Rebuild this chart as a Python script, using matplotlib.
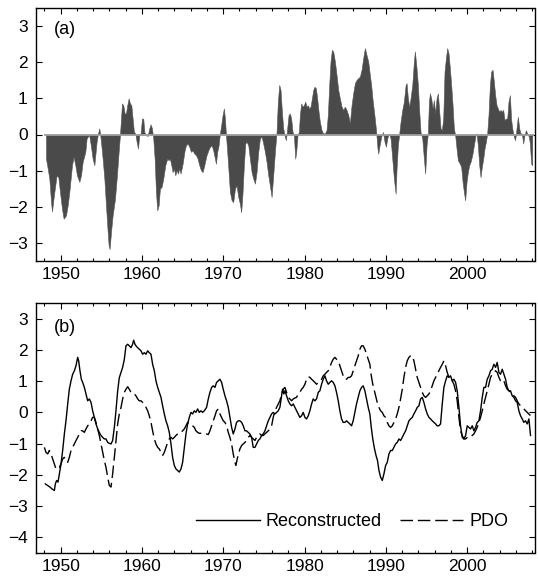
import matplotlib
matplotlib.use("Agg")
import matplotlib.pyplot as plt
from matplotlib.ticker import MultipleLocator

plt.rcParams['font.family'] = ['Liberation Sans', 'DejaVu Sans']

# ---------------- Panel (a): monthly PDO index ----------------
years_a = [1948.19, 1948.40, 1948.60, 1948.81, 1948.93, 1949.09, 1949.22, 1949.50, 1949.71, 1949.91,
           1950.16, 1950.36, 1950.65, 1950.86, 1951.06, 1951.39, 1951.59, 1951.80, 1952.00, 1952.29,
           1952.50, 1952.70, 1953.03, 1953.19, 1953.40, 1953.52, 1953.73, 1953.93, 1954.14, 1954.26,
           1954.42, 1954.59, 1954.75, 1954.87, 1955.00, 1955.16, 1955.37, 1955.57, 1955.78, 1955.90,
           1956.02, 1956.19, 1956.39, 1956.68, 1956.92, 1957.13, 1957.29, 1957.42, 1957.54, 1957.70,
           1957.87, 1958.03, 1958.19, 1958.36, 1958.52, 1958.69, 1958.85, 1959.01, 1959.18, 1959.34,
           1959.51, 1959.67, 1959.83, 1960.00, 1960.16, 1960.29, 1960.49, 1960.70, 1960.90, 1961.06,
           1961.23, 1961.39, 1961.56, 1961.72, 1961.88, 1962.05, 1962.21, 1962.42, 1962.62, 1962.87,
           1963.11, 1963.28, 1963.44, 1963.61, 1963.77, 1963.93, 1964.10, 1964.26, 1964.43, 1964.59,
           1964.75, 1965.00, 1965.25, 1965.41, 1965.62, 1965.82, 1966.03, 1966.23, 1966.44, 1966.64,
           1966.85, 1967.05, 1967.26, 1967.46, 1967.67,
           1967.95, 1968.16, 1968.36, 1968.57, 1968.77, 1968.98, 1969.10, 1969.26, 1969.43, 1969.59,
           1969.75, 1969.92, 1970.08, 1970.21, 1970.33, 1970.49, 1970.66, 1970.82, 1971.03, 1971.23,
           1971.44, 1971.64, 1971.85, 1972.05, 1972.21, 1972.38, 1972.54, 1972.71, 1972.87, 1973.08,
           1973.28, 1973.49, 1973.69, 1973.90, 1974.10, 1974.31, 1974.51, 1974.72, 1974.92, 1975.13,
           1975.33, 1975.54, 1975.74, 1975.95, 1976.15, 1976.36, 1976.56, 1976.72, 1976.89, 1977.05,
           1977.22, 1977.38, 1977.54, 1977.71, 1977.87, 1978.04, 1978.20, 1978.36, 1978.53, 1978.69,
           1978.86, 1978.98, 1979.14, 1979.31, 1979.43, 1979.59, 1979.76, 1979.92, 1980.09, 1980.25,
           1980.41, 1980.58, 1980.74, 1980.91, 1981.07, 1981.23, 1981.40, 1981.56, 1981.73, 1981.89,
           1982.10, 1982.30, 1982.51, 1982.71, 1982.87, 1983.04, 1983.20, 1983.37, 1983.53, 1983.74,
           1983.94, 1984.15, 1984.35, 1984.56, 1984.76, 1984.97, 1985.17, 1985.38, 1985.58, 1985.79,
           1985.99, 1986.20, 1986.40, 1986.61, 1986.81, 1987.02, 1987.22, 1987.43, 1987.63, 1987.84,
           1988.04, 1988.20, 1988.40, 1988.60, 1988.80, 1988.98,
           1989.07, 1989.24, 1989.44, 1989.65, 1989.85, 1990.02, 1990.18, 1990.39, 1990.59, 1990.80,
           1991.00, 1991.21, 1991.33, 1991.49, 1991.66, 1991.82, 1992.03, 1992.23, 1992.44, 1992.56,
           1992.72, 1992.89, 1993.05, 1993.26, 1993.46, 1993.58, 1993.75, 1993.95, 1994.12, 1994.28,
           1994.49, 1994.69, 1994.85, 1995.02, 1995.18, 1995.31, 1995.43, 1995.59, 1995.76, 1995.92,
           1996.08, 1996.25, 1996.41, 1996.58, 1996.74, 1996.90, 1997.07, 1997.23, 1997.40, 1997.56,
           1997.72, 1997.89, 1998.05, 1998.22, 1998.38, 1998.54, 1998.71, 1998.87, 1999.12, 1999.28,
           1999.45, 1999.61, 1999.77, 1999.94, 2000.10, 2000.27, 2000.43, 2000.64, 2000.84, 2001.05,
           2001.17, 2001.33, 2001.50, 2001.66, 2001.82, 2001.99, 2002.15, 2002.32, 2002.48, 2002.64,
           2002.81, 2002.97, 2003.14, 2003.30, 2003.46, 2003.63, 2003.79, 2003.96, 2004.12, 2004.28,
           2004.45, 2004.61, 2004.78, 2004.94, 2005.10, 2005.27, 2005.43, 2005.60, 2005.76, 2005.92,
           2006.09, 2006.25, 2006.42, 2006.58, 2006.74, 2006.91, 2007.07, 2007.24, 2007.40, 2007.61,
           2007.73, 2007.89, 2008.02]
pdo_a = [-0.67, -0.94, -1.22, -1.87, -2.13, -1.82, -1.59, -1.13, -1.18, -1.59,
         -2.06, -2.33, -2.24, -1.96, -1.59, -0.85, -0.62, -0.85, -1.13, -1.31,
         -1.13, -0.76, -0.48, -0.11, -0.04, -0.04, -0.34, -0.67, -0.85, -0.57,
         -0.20, 0.03, 0.17, -0.02, -0.30, -0.67, -1.22, -1.96, -2.70, -3.07,
         -3.17, -2.70, -2.24, -1.78, -1.13, -0.48, -0.02, 0.44, 0.86, 0.81,
         0.58, 0.58, 0.81, 1.00, 0.86, 0.81, 0.44, 0.07, 0.03, -0.20,
         -0.39, -0.02, 0.03, 0.44, 0.44, 0.07, -0.02, -0.04, 0.17, 0.28,
         0.17, -0.11, -0.67, -1.59, -2.10, -1.96, -1.50, -1.45, -1.22, -0.85,
         -0.67, -0.71, -0.67, -0.85, -1.04, -0.94, -1.13, -0.99, -1.08, -0.94,
         -1.08, -0.81, -0.44, -0.30, -0.25, -0.34, -0.48, -0.44, -0.53, -0.57,
         -0.67, -0.85, -0.99, -1.04, -0.85,
         -0.57, -0.44, -0.34, -0.30, -0.44, -0.67, -0.81, -0.48, -0.30, 0.03,
         0.26, 0.54, 0.72, 0.44, 0.00, -0.48, -1.04, -1.59, -1.82, -1.87,
         -1.50, -1.41, -1.73, -1.92, -2.15, -1.59, -0.85, -0.25, -0.20, -0.30,
         -0.67, -1.04, -1.22, -1.36, -1.04, -0.48, -0.11, -0.06, -0.25, -0.48,
         -0.76, -1.13, -1.41, -1.73, -1.13, -0.48, 0.07, 0.91, 1.37, 1.23,
         0.63, 0.17, -0.02, -0.16, 0.17, 0.54, 0.58, 0.44, 0.07, -0.02,
         -0.67, -0.48, -0.02, 0.07, 0.54, 0.86, 0.77, 0.81, 0.91, 0.77,
         0.81, 0.72, 0.77, 1.00, 1.23, 1.32, 1.28, 1.00, 0.63, 0.35,
         0.12, 0.03, 0.03, 0.12, 0.54, 1.37, 2.02, 2.34, 2.30, 2.02,
         1.65, 1.23, 1.00, 0.77, 0.68, 0.77, 0.68, 0.54, 0.31, 0.81,
         1.14, 1.42, 1.51, 1.56, 1.60, 1.79, 2.11, 2.39, 2.20, 2.02,
         1.65, 1.37, 0.91, 0.54, 0.12, -0.39,
         -0.53, -0.30, -0.06, 0.07, -0.20, -0.34, -0.11, 0.03, -0.11, -0.67,
         -1.22, -1.64, -0.94, -0.30, 0.03, 0.35, 0.68, 0.91, 1.37, 1.42,
         1.00, 0.77, 1.00, 1.37, 2.02, 2.30, 1.93, 1.37, 0.63, 0.07,
         -0.11, -0.67, -1.08, -0.30, 0.03, 0.91, 1.14, 1.00, 0.72, 0.95,
         0.58, 1.00, 1.14, 0.63, 0.17, 0.12, 0.44, 1.74, 2.11, 2.39,
         2.25, 1.83, 1.37, 0.81, 0.17, -0.02, -0.39, -0.71, -0.81, -0.90,
         -1.31, -1.59, -1.82, -1.31, -1.04, -0.85, -0.76, -0.57, -0.30, -0.02,
         0.03, -0.30, -0.85, -1.18, -0.90, -0.67, -0.39, -0.20, 0.03, 0.54,
         1.37, 1.74, 1.79, 1.46, 1.09, 0.81, 0.72, 0.63, 0.68, 0.63,
         0.68, 0.40, 0.44, 0.44, 0.91, 1.09, 0.40, 0.12, -0.06, -0.16,
         0.17, 0.49, 0.17, 0.03, 0.03, -0.25, -0.02, 0.12, 0.03, -0.06,
         -0.25, -0.81, -0.85]

# ---------------- Panel (b): Reconstructed and PDO ----------------
years_rec = [1948.11, 1948.40, 1948.68, 1948.93, 1949.22, 1949.34, 1949.50, 1949.67, 1949.83, 1950.04,
             1950.24, 1950.45, 1950.65, 1950.86, 1951.06, 1951.27, 1951.47, 1951.68, 1951.88, 1952.09,
             1952.21, 1952.37, 1952.54, 1952.70, 1952.91, 1953.11, 1953.32, 1953.52, 1953.73, 1953.93,
             1954.14, 1954.34, 1954.55, 1954.75, 1954.96, 1955.16, 1955.37, 1955.57, 1955.78, 1955.98,
             1956.19, 1956.39, 1956.60, 1956.80, 1957.01, 1957.21, 1957.42, 1957.62, 1957.83, 1958.03,
             1958.24, 1958.44, 1958.65, 1958.85, 1958.97, 1959.14, 1959.26, 1959.47, 1959.67, 1959.88,
             1960.08, 1960.29, 1960.49, 1960.70, 1960.90, 1961.11, 1961.31, 1961.52, 1961.72, 1961.93,
             1962.13, 1962.34, 1962.54, 1962.75, 1962.95, 1963.16, 1963.36, 1963.57, 1963.77, 1963.98,
             1964.18, 1964.39, 1964.59, 1964.80, 1965.00, 1965.21, 1965.41, 1965.62, 1965.82, 1966.03,
             1966.23, 1966.44, 1966.64, 1966.85, 1967.05, 1967.26, 1967.46, 1967.67,
             1967.95, 1968.16, 1968.36, 1968.57, 1968.77, 1968.98, 1969.18, 1969.39, 1969.59, 1969.80,
             1970.00, 1970.21, 1970.41, 1970.62, 1970.82, 1971.03, 1971.23, 1971.44, 1971.64, 1971.85,
             1972.05, 1972.26, 1972.46, 1972.67, 1972.87, 1973.08, 1973.28, 1973.49, 1973.69, 1973.90,
             1974.10, 1974.31, 1974.51, 1974.72, 1974.92, 1975.13, 1975.33, 1975.54, 1975.74, 1975.95,
             1976.15, 1976.36, 1976.56, 1976.77, 1976.97, 1977.18, 1977.30, 1977.46, 1977.59, 1977.79,
             1978.00, 1978.20, 1978.41, 1978.61, 1978.82, 1979.02, 1979.23, 1979.43, 1979.64, 1979.84,
             1980.05, 1980.25, 1980.46, 1980.66, 1980.87, 1981.07, 1981.28, 1981.48, 1981.69, 1981.89,
             1982.10, 1982.30, 1982.51, 1982.71, 1982.92, 1983.12, 1983.33, 1983.53, 1983.74, 1983.94,
             1984.15, 1984.35, 1984.56, 1984.76, 1984.97, 1985.17, 1985.38, 1985.58, 1985.79, 1985.99,
             1986.20, 1986.40, 1986.61, 1986.81, 1987.02, 1987.22, 1987.43, 1987.63, 1987.84, 1988.04,
             1988.20, 1988.40, 1988.60, 1988.80, 1988.98, 1989.16, 1989.36, 1989.57, 1989.77, 1989.98,
             1990.18, 1990.39, 1990.59, 1990.80, 1991.00, 1991.21, 1991.41, 1991.62, 1991.82, 1992.03,
             1992.23, 1992.44, 1992.64, 1992.85, 1993.05, 1993.26, 1993.46, 1993.67, 1993.87, 1994.08,
             1994.28, 1994.49, 1994.69, 1994.90, 1995.10, 1995.31, 1995.51, 1995.72, 1995.92, 1996.13,
             1996.33, 1996.53, 1996.74, 1996.95, 1997.15, 1997.36, 1997.56, 1997.77, 1997.97, 1998.18,
             1998.38, 1998.59, 1998.79, 1999.00, 1999.20, 1999.41, 1999.61, 1999.82, 2000.02, 2000.23,
             2000.43, 2000.64, 2000.84, 2001.05, 2001.25, 2001.46, 2001.66, 2001.87, 2002.07, 2002.28,
             2002.48, 2002.69, 2002.89, 2003.10, 2003.30, 2003.51, 2003.71, 2003.92, 2004.12, 2004.33,
             2004.53, 2004.74, 2004.94, 2005.15, 2005.35, 2005.56, 2005.76, 2005.97, 2006.17, 2006.38,
             2006.58, 2006.79, 2006.99, 2007.20, 2007.40, 2007.61, 2007.81]
rec = [-2.29, -2.34, -2.39, -2.45, -2.50, -2.29, -2.18, -2.23, -1.97, -1.65,
       -1.22, -0.69, -0.27, 0.27, 0.74, 1.01, 1.22, 1.33, 1.49, 1.76,
       1.65, 1.33, 1.06, 0.96, 0.80, 0.59, 0.37, 0.43, 0.32, 0.05,
       -0.16, -0.37, -0.53, -0.64, -0.74, -0.80, -0.85, -0.85, -0.96, -0.99,
       -1.01, -0.90, -0.48, 0.05, 0.69, 1.11, 1.28, 1.44, 1.70, 2.13,
       2.18, 2.13, 2.07, 2.18, 2.31, 2.18, 2.13, 2.07, 2.02, 1.97,
       1.86, 1.91, 1.86, 1.97, 1.91, 1.86, 1.54, 1.33, 1.01, 0.80,
       0.64, 0.48, 0.21, -0.05, -0.27, -0.43, -0.64, -1.01, -1.44, -1.70,
       -1.81, -1.86, -1.91, -1.81, -1.60, -1.12, -0.69, -0.37, -0.16, 0.00,
       -0.05, 0.05, 0.00, 0.11, 0.00, 0.05, 0.00, 0.05,
       0.16, 0.43, 0.64, 0.80, 0.85, 0.80, 0.96, 1.01, 1.06, 0.96,
       0.74, 0.53, 0.37, 0.16, -0.16, -0.48, -0.69, -0.53, -0.32, -0.27,
       -0.27, -0.32, -0.43, -0.59, -0.59, -0.64, -0.69, -0.80, -1.12, -1.12,
       -1.01, -0.90, -0.85, -0.74, -0.69, -0.59, -0.43, -0.27, -0.16, -0.05,
       0.00, -0.05, 0.00, 0.05, 0.16, 0.53, 0.74, 0.59, 0.69, 0.53,
       0.37, 0.27, 0.21, 0.27, 0.16, 0.05, -0.05, -0.16, -0.11, 0.00,
       -0.16, -0.21, -0.11, 0.05, 0.27, 0.43, 0.37, 0.43, 0.64, 0.69,
       0.90, 1.06, 1.17, 1.01, 0.90, 0.96, 1.01, 0.96, 0.85, 0.64,
       0.37, 0.05, -0.21, -0.32, -0.32, -0.27, -0.32, -0.37, -0.43, -0.27,
       0.00, 0.27, 0.48, 0.69, 0.80, 0.85, 0.69, 0.43, 0.16, -0.05,
       -0.45, -0.85, -1.15, -1.38, -1.54, -1.86, -2.07, -2.18, -1.97, -1.70,
       -1.60, -1.33, -1.22, -1.22, -1.12, -1.01, -0.96, -0.85, -0.90, -0.80,
       -0.69, -0.59, -0.43, -0.27, -0.21, -0.16, -0.05, 0.05, 0.16, 0.21,
       0.43, 0.48, 0.32, 0.11, -0.05, -0.16, -0.21, -0.27, -0.32, -0.37,
       -0.43, -0.43, -0.37, 0.27, 0.80, 1.01, 1.17, 1.12, 1.17, 1.01,
       1.06, 0.96, 0.69, 0.16, -0.43, -0.80, -0.85, -0.74, -0.43, -0.48,
       -0.53, -0.43, -0.59, -0.48, -0.32, -0.27, 0.05, 0.48, 0.80, 0.80,
       1.06, 1.17, 1.33, 1.38, 1.54, 1.44, 1.60, 1.28, 1.22, 1.38,
       1.22, 1.06, 0.80, 0.69, 0.69, 0.53, 0.48, 0.37, 0.32, 0.05,
       -0.11, -0.21, -0.32, -0.27, -0.37, -0.21, -0.74]

years_pdo = [1947.99, 1948.19, 1948.40, 1948.60, 1948.81, 1949.01, 1949.22, 1949.42, 1949.63, 1949.83,
             1950.04, 1950.24, 1950.45, 1950.65, 1950.86, 1951.06, 1951.27, 1951.47, 1951.68, 1951.88,
             1952.09, 1952.29, 1952.50, 1952.70, 1952.91, 1953.11, 1953.32, 1953.52, 1953.73, 1953.93,
             1954.14, 1954.34, 1954.55, 1954.75, 1954.96, 1955.16, 1955.37, 1955.57, 1955.78, 1955.98,
             1956.19, 1956.39, 1956.60, 1956.80, 1957.01, 1957.21, 1957.42, 1957.62, 1957.83, 1958.03,
             1958.24, 1958.44, 1958.65, 1958.85, 1959.06, 1959.26, 1959.47, 1959.67, 1959.88, 1960.08,
             1960.29, 1960.49, 1960.70, 1960.90, 1961.11, 1961.31, 1961.52, 1961.72, 1961.93, 1962.13,
             1962.34, 1962.54, 1962.75, 1962.95, 1963.16, 1963.36, 1963.57, 1963.77, 1963.98, 1964.18,
             1964.39, 1964.59, 1964.80, 1965.00, 1965.21, 1965.41, 1965.62, 1965.82, 1966.03, 1966.23,
             1966.44, 1966.64, 1966.85, 1967.05, 1967.26, 1967.46,
             1967.95, 1968.16, 1968.36, 1968.57, 1968.77, 1968.98, 1969.18, 1969.39, 1969.59, 1969.80,
             1970.00, 1970.21, 1970.41, 1970.62, 1970.82, 1971.03, 1971.23, 1971.44, 1971.56, 1971.72,
             1971.89, 1972.05, 1972.26, 1972.46, 1972.67, 1972.87, 1973.08, 1973.28, 1973.49, 1973.69,
             1973.90, 1974.10, 1974.31, 1974.51, 1974.72, 1974.92, 1975.13, 1975.33, 1975.54, 1975.74,
             1975.95, 1976.15, 1976.36, 1976.56, 1976.77, 1976.97, 1977.18, 1977.38, 1977.59, 1977.79,
             1978.00, 1978.20, 1978.41, 1978.61, 1978.82, 1979.02, 1979.23, 1979.43, 1979.64, 1979.84,
             1980.05, 1980.25, 1980.46, 1980.66, 1980.87, 1981.07, 1981.28, 1981.48, 1981.69, 1981.89,
             1982.10, 1982.30, 1982.51, 1982.71, 1982.92, 1983.12, 1983.33, 1983.53, 1983.74, 1983.94,
             1984.15, 1984.35, 1984.56, 1984.76, 1984.97, 1985.17, 1985.38, 1985.58, 1985.79, 1985.99,
             1986.20, 1986.40, 1986.61, 1986.81, 1987.02, 1987.22, 1987.43, 1987.63, 1987.84, 1988.04,
             1988.20, 1988.40, 1988.60, 1988.80, 1988.95, 1989.16, 1989.36, 1989.57, 1989.77, 1989.98,
             1990.18, 1990.39, 1990.59, 1990.80, 1991.00, 1991.21, 1991.41, 1991.62, 1991.82, 1992.03,
             1992.23, 1992.44, 1992.64, 1992.85, 1993.05, 1993.26, 1993.46, 1993.67, 1993.87, 1994.08,
             1994.28, 1994.49, 1994.69, 1994.90, 1995.10, 1995.31, 1995.51, 1995.72, 1995.92, 1996.13,
             1996.33, 1996.53, 1996.74, 1996.95, 1997.15, 1997.36, 1997.56, 1997.77, 1997.97, 1998.18,
             1998.38, 1998.59, 1998.79, 1999.00, 1999.20, 1999.41, 1999.61, 1999.82, 2000.02, 2000.23,
             2000.43, 2000.64, 2000.84, 2001.05, 2001.25, 2001.46, 2001.66, 2001.87, 2002.07, 2002.28,
             2002.48, 2002.69, 2002.89, 2003.10, 2003.30, 2003.51, 2003.71, 2003.92, 2004.12, 2004.33,
             2004.53, 2004.74, 2004.94, 2005.15, 2005.35, 2005.56, 2005.76, 2005.97, 2006.17, 2006.38,
             2006.58, 2006.79, 2006.99, 2007.40, 2007.80]
pdo = [-1.12, -1.28, -1.33, -1.22, -1.33, -1.49, -1.65, -1.81, -1.76, -1.76,
       -1.65, -1.49, -1.44, -1.54, -1.60, -1.44, -1.22, -1.12, -1.01, -0.90,
       -0.80, -0.69, -0.59, -0.59, -0.64, -0.53, -0.43, -0.37, -0.27, -0.16,
       -0.16, -0.32, -0.53, -0.74, -1.01, -1.28, -1.54, -1.76, -2.07, -2.34,
       -2.39, -1.97, -1.44, -0.90, -0.37, -0.05, 0.16, 0.43, 0.64, 0.74,
       0.82, 0.74, 0.64, 0.59, 0.59, 0.53, 0.43, 0.37, 0.37, 0.32,
       0.27, 0.16, 0.05, -0.11, -0.32, -0.59, -0.85, -1.01, -1.12, -1.17,
       -1.28, -1.38, -1.28, -1.12, -0.96, -0.85, -0.80, -0.85, -0.80, -0.74,
       -0.69, -0.64, -0.64, -0.59, -0.53, -0.43, -0.32, -0.37, -0.37, -0.43,
       -0.48, -0.59, -0.64, -0.67, -0.67, -0.67,
       -0.69, -0.71, -0.59, -0.43, -0.27, -0.11, 0.05, 0.11, -0.05, -0.16,
       -0.27, -0.32, -0.43, -0.64, -0.80, -1.01, -1.33, -1.60, -1.70, -1.49,
       -1.33, -1.17, -1.06, -1.01, -0.96, -0.90, -0.80, -0.74, -0.80, -0.85,
       -0.90, -0.80, -0.74, -0.69, -0.74, -0.74, -0.69, -0.64, -0.59, -0.53,
       -0.43, -0.16, 0.05, 0.16, 0.27, 0.37, 0.59, 0.74, 0.80, 0.64,
       0.48, 0.43, 0.37, 0.43, 0.46, 0.48, 0.59, 0.64, 0.74, 0.80,
       0.90, 1.06, 1.14, 1.12, 1.06, 1.01, 0.96, 0.90, 0.96, 1.01,
       1.06, 1.17, 1.22, 1.28, 1.33, 1.44, 1.60, 1.70, 1.76, 1.70,
       1.65, 1.49, 1.33, 1.17, 1.06, 1.06, 1.12, 1.12, 1.17, 1.33,
       1.49, 1.65, 1.81, 2.02, 2.13, 2.13, 2.02, 1.86, 1.70, 1.54,
       1.20, 0.90, 0.69, 0.48, 0.32, 0.16, 0.05, 0.00, -0.11, -0.16,
       -0.32, -0.43, -0.48, -0.43, -0.32, -0.21, -0.05, 0.16, 0.43, 0.74,
       1.12, 1.44, 1.65, 1.76, 1.81, 1.81, 1.65, 1.38, 1.12, 0.96,
       0.80, 0.64, 0.53, 0.48, 0.53, 0.59, 0.69, 0.85, 1.01, 1.12,
       1.22, 1.33, 1.44, 1.54, 1.65, 1.49, 1.28, 1.12, 1.01, 1.01,
       0.90, 0.69, 0.37, -0.16, -0.59, -0.74, -0.85, -0.85, -0.80, -0.74,
       -0.74, -0.74, -0.69, -0.59, -0.48, -0.32, -0.16, 0.05, 0.27, 0.48,
       0.69, 0.90, 1.12, 1.22, 1.28, 1.33, 1.28, 1.12, 1.01, 0.96,
       1.01, 0.85, 0.74, 0.69, 0.64, 0.59, 0.53, 0.48, 0.37, 0.27,
       0.21, 0.16, 0.11, 0.00, -0.10]

xticks = [1950, 1960, 1970, 1980, 1990, 2000]

# ---------------- Figure ----------------
W, H = 538, 578
fig = plt.figure(figsize=(W / 100, H / 100), dpi=100)
ax_a = fig.add_axes([36 / W, 1 - 261 / H, (534.5 - 36) / W, (261 - 8) / H])
ax_b = fig.add_axes([36 / W, 1 - 553 / H, (534.5 - 36) / W, (553 - 303) / H])

fill_col = '#4a4a4a'
ax_a.fill_between(years_a, pdo_a, 0, color=fill_col, linewidth=0.4, edgecolor='#555555')
ax_a.hlines(0, years_a[0] - 0.2, years_a[-1] + 0.2, color='#a0a0a0', lw=1.3, zorder=3)
ax_a.set_ylim(-3.5, 3.5)
ax_a.set_yticks([-3, -2, -1, 0, 1, 2, 3])

ax_b.plot(years_rec, rec, color='black', lw=1.0, label='Reconstructed')
ax_b.plot(years_pdo, pdo, color='black', lw=1.0, linestyle=(0, (9, 3.5)), label='PDO')
ax_b.set_ylim(-4.5, 3.5)
ax_b.set_yticks([-4, -3, -2, -1, 0, 1, 2, 3])

for ax in (ax_a, ax_b):
    ax.set_xlim(1946.96, 2008.3)
    ax.set_xticks(xticks)
    ax.xaxis.set_minor_locator(MultipleLocator(2))
    ax.tick_params(axis='both', which='both', direction='in', top=True, right=True,
                   labelsize=12.5, colors='black')
    ax.tick_params(axis='both', which='major', length=4.5, width=0.8)
    ax.tick_params(axis='x', which='minor', length=2.5, width=0.8)
    ax.tick_params(axis='y', which='major', pad=6)
    ax.tick_params(axis='x', which='major', pad=4)
    for s in ax.spines.values():
        s.set_linewidth(1.0)

ax_a.text(0.036, 0.915, '(a)', transform=ax_a.transAxes, fontsize=13, va='center', ha='left')
ax_b.text(0.036, 0.90, '(b)', transform=ax_b.transAxes, fontsize=13, va='center', ha='left')

ax_b.legend(loc='center', bbox_to_anchor=(0.635, 0.124), ncol=2, frameon=False,
            fontsize=13, handlelength=3.5, handletextpad=0.35, columnspacing=1.0)

fig.savefig('out.png', dpi=100)
